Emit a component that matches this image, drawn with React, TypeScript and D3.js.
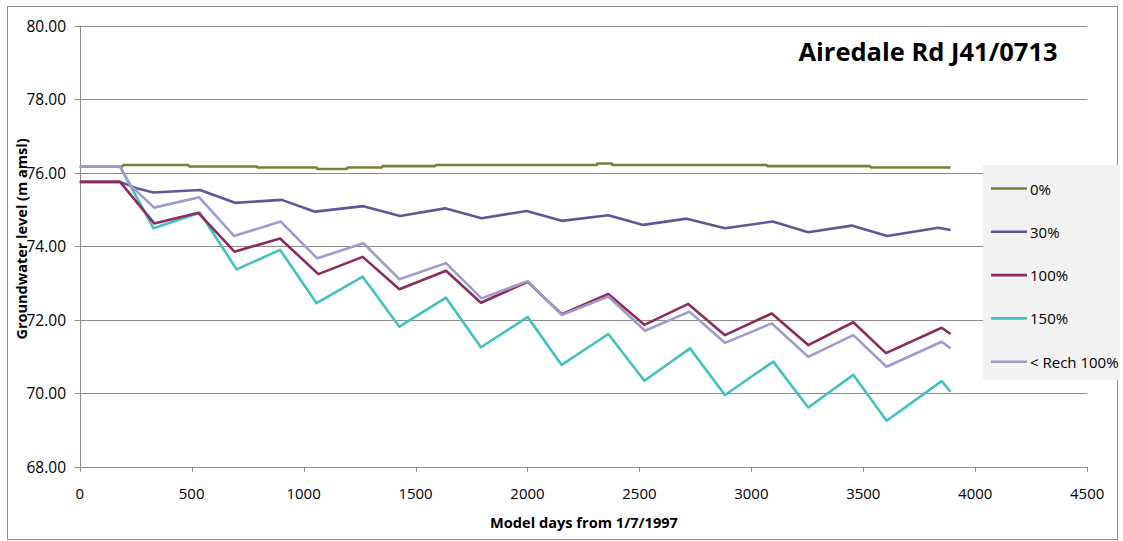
import React from "react";
import * as d3 from "d3";

const xTicks = [0, 500, 1000, 1500, 2000, 2500, 3000, 3500, 4000, 4500];
const yTicks = [68, 70, 72, 74, 76, 78, 80];

const days0 = [0, 190, 195, 484, 490, 790, 795, 1058, 1062, 1192, 1196, 1349, 1353, 1587, 1592, 2309, 2313, 2376, 2380, 3068, 3072, 3530, 3535, 3890];
const level0 = [76.17, 76.17, 76.21, 76.21, 76.17, 76.17, 76.14, 76.14, 76.1, 76.1, 76.14, 76.14, 76.18, 76.18, 76.21, 76.21, 76.25, 76.25, 76.21, 76.21, 76.18, 76.18, 76.14, 76.14];

const days30 = [0, 180, 254, 329, 537, 694, 902, 1051, 1267, 1431, 1632, 1795, 1996, 2153, 2361, 2517, 2711, 2882, 3095, 3254, 3448, 3607, 3835, 3890];
const level30 = [75.75, 75.75, 75.58, 75.46, 75.53, 75.18, 75.26, 74.94, 75.09, 74.82, 75.03, 74.76, 74.96, 74.69, 74.84, 74.58, 74.75, 74.49, 74.67, 74.38, 74.56, 74.28, 74.5, 74.44];

const days100 = [0, 180, 333, 530, 691, 895, 1066, 1264, 1428, 1636, 1792, 2001, 2153, 2361, 2522, 2718, 2882, 3091, 3254, 3455, 3601, 3850, 3890];
const level100 = [75.75, 75.75, 74.62, 74.91, 73.85, 74.21, 73.24, 73.71, 72.83, 73.33, 72.46, 73.03, 72.15, 72.7, 71.86, 72.43, 71.58, 72.17, 71.31, 71.93, 71.09, 71.78, 71.61];

const days150 = [0, 180, 329, 537, 701, 895, 1058, 1264, 1428, 1636, 1792, 2001, 2153, 2361, 2522, 2726, 2882, 3098, 3254, 3455, 3604, 3850, 3890];
const level150 = [76.17, 76.17, 74.49, 74.91, 73.37, 73.9, 72.45, 73.17, 71.81, 72.6, 71.25, 72.07, 70.77, 71.61, 70.34, 71.22, 69.95, 70.86, 69.61, 70.5, 69.25, 70.33, 70.04];

const daysRech = [0, 180, 225, 332, 534, 689, 898, 1061, 1267, 1428, 1636, 1795, 2001, 2153, 2361, 2525, 2723, 2882, 3091, 3254, 3455, 3604, 3850, 3890];
const levelRech = [76.17, 76.17, 75.67, 75.05, 75.33, 74.28, 74.67, 73.67, 74.08, 73.1, 73.54, 72.58, 73.05, 72.13, 72.63, 71.7, 72.22, 71.37, 71.9, 70.99, 71.58, 70.72, 71.4, 71.22];

const seriesNames = ["0%", "30%", "100%", "150%", "< Rech 100%"];
const seriesColors = ["#7e7d35", "#5a5a98", "#8d2b5b", "#43c0c0", "#9d9bd0"];
const seriesDays = [days0, days30, days100, days150, daysRech];
const seriesLevels = [level0, level30, level100, level150, levelRech];
// drawing order (back to front)
const drawOrder = [0, 1, 3, 2, 4];

const FONT = "'Open Sans', 'Noto Sans', sans-serif";

export default function App() {
  const W = 1123;
  const H = 541;
  const x = d3.scaleLinear().domain([0, 4500]).range([79.7, 1087.2]);
  const y = d3.scaleLinear().domain([68, 80]).range([466.7, 25.7]);
  const line = d3
    .line<[number, number]>()
    .x((d) => x(d[0]))
    .y((d) => y(d[1]));

  const legX = 983;
  const legY = 165;
  const legW = 137;
  const legH = 215;

  return (
    <div style={{ position: "absolute", left: 0, top: 0 }}>
      <svg width={W} height={H} style={{ display: "block" }}>
        <rect x={0} y={0} width={W} height={H} fill="#ffffff" />
        <rect x={7.5} y={6.5} width={1110} height={533} fill="#ffffff" stroke="#8c8c8c" strokeWidth={1} />
        {/* gridlines */}
        {yTicks.map((t) => (
          <line key={"g" + t} x1={x(0)} x2={x(4500)} y1={Math.round(y(t)) + 0.5} y2={Math.round(y(t)) + 0.5} stroke="#8c8c8c" strokeWidth={1} />
        ))}
        {/* y axis */}
        <line x1={Math.round(x(0)) + 0.5} x2={Math.round(x(0)) + 0.5} y1={y(80)} y2={y(68)} stroke="#8c8c8c" strokeWidth={1} />
        {yTicks.map((t) => (
          <line key={"yt" + t} x1={x(0) - 5} x2={x(0)} y1={Math.round(y(t)) + 0.5} y2={Math.round(y(t)) + 0.5} stroke="#8c8c8c" strokeWidth={1} />
        ))}
        {yTicks.map((t) => (
          <text key={"yl" + t} x={66} y={y(t)} textAnchor="end" dominantBaseline="central" fontFamily={FONT} fontSize={15.5} fill="#000">
            {t.toFixed(2)}
          </text>
        ))}
        {/* x axis ticks */}
        {xTicks.map((t) => (
          <line key={"xt" + t} x1={Math.round(x(t)) + 0.5} x2={Math.round(x(t)) + 0.5} y1={y(68)} y2={y(68) + 5} stroke="#8c8c8c" strokeWidth={1} />
        ))}
        {xTicks.map((t) => (
          <text key={"xl" + t} x={x(t)} y={493} textAnchor="middle" dominantBaseline="central" fontFamily={FONT} fontSize={15} fill="#000">
            {t}
          </text>
        ))}
        {/* legend background */}
        <rect x={legX} y={legY} width={legW} height={legH} fill="#f2f2f2" />
        {/* series */}
        {drawOrder.map((i) => {
          const pts: [number, number][] = seriesDays[i].map((d, k) => [d, seriesLevels[i][k]]);
          return (
            <path key={"s" + i} d={line(pts) || ""} fill="none" stroke={seriesColors[i]} strokeWidth={2.6} strokeLinejoin="round" />
          );
        })}
        {/* legend */}
        {seriesNames.map((n, i) => {
          const cy = 188.5 + i * 43.3;
          return (
            <g key={"lg" + i}>
              <line x1={991} x2={1027} y1={cy} y2={cy} stroke={seriesColors[i]} strokeWidth={2.6} />
              <text x={1030} y={cy} dominantBaseline="central" fontFamily={FONT} fontSize={15} fill="#000">
                {n}
              </text>
            </g>
          );
        })}
        {/* title */}
        <text x={928} y={51} textAnchor="middle" dominantBaseline="central" fontFamily={FONT} fontSize={25.5} fontWeight="bold" fill="#000">
          Airedale Rd J41/0713
        </text>
        {/* axis titles */}
        <text x={584} y={522} textAnchor="middle" dominantBaseline="central" fontFamily={FONT} fontSize={14.6} fontWeight="bold" fill="#000">
          Model days from 1/7/1997
        </text>
        <text
          transform={`translate(21,239) rotate(-90)`}
          textAnchor="middle"
          dominantBaseline="central"
          fontFamily={FONT}
          fontSize={14.5}
          fontWeight="bold"
          fill="#000"
        >
          Groundwater level (m amsl)
        </text>
      </svg>
    </div>
  );
}
